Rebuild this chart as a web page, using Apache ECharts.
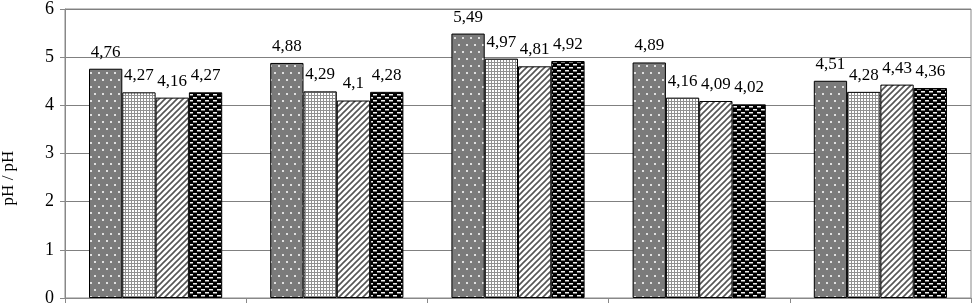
<!DOCTYPE html>
<html>
<head>
<meta charset="utf-8">
<script src="https://cdn.jsdelivr.net/npm/echarts@6/dist/echarts.min.js"></script>
<style>html,body{margin:0;padding:0;background:#fff;}#c{width:972px;height:307px;}</style>
</head>
<body>
<div id="c"></div>
<script>
var categories = ['1', '2', '3', '4', '5'];
var series1 = [4.76, 4.88, 5.49, 4.89, 4.51];
var series2 = [4.27, 4.29, 4.97, 4.16, 4.28];
var series3 = [4.16, 4.1, 4.81, 4.09, 4.43];
var series4 = [4.27, 4.28, 4.92, 4.02, 4.36];
var seriesNames = ['S1', 'S2', 'S3', 'S4'];
var yTicks = [0, 1, 2, 3, 4, 5, 6];
var yTitle = 'pH / pH';

function makePattern(w, h, draw) {
  var c = document.createElement('canvas');
  c.width = w; c.height = h;
  var g = c.getContext('2d');
  draw(g, w, h);
  return { image: c, repeat: 'repeat' };
}
var pDots = makePattern(8, 14, function (g, w, h) {
  g.fillStyle = '#7b7b7b'; g.fillRect(0, 0, w, h);
  g.fillStyle = '#e0e0e0';
  g.fillRect(2, 2, 2, 2); g.fillRect(6, 9, 2, 2);
});
var pGrid = makePattern(3, 3, function (g, w, h) {
  g.fillStyle = '#909090'; g.fillRect(0, 0, w, h);
  g.fillStyle = '#ffffff'; g.fillRect(0, 0, 2, 2);
});
var pDiag = makePattern(6, 6, function (g, w, h) {
  g.fillStyle = '#ffffff'; g.fillRect(0, 0, w, h);
  g.strokeStyle = '#555'; g.lineWidth = 1.6;
  g.beginPath();
  g.moveTo(-1, 7); g.lineTo(7, -1);
  g.moveTo(-4, 4); g.lineTo(4, -4);
  g.moveTo(2, 10); g.lineTo(10, 2);
  g.stroke();
});
var pDash = makePattern(8, 6, function (g, w, h) {
  g.fillStyle = '#000'; g.fillRect(0, 0, w, h);
  g.fillStyle = '#f0f0f0';
  g.fillRect(1, 1, 4, 1.5); g.fillRect(5, 4, 4, 1.5); g.fillRect(-3, 4, 4, 1.5);
});
var patterns = [pDots, pGrid, pDiag, pDash];
var datas = [series1, series2, series3, series4];

var chart = echarts.init(document.getElementById('c'));
chart.setOption({
  animation: false,
  grid: { left: 65, right: 1, top: 8, bottom: 9, show: true, borderColor: '#888', borderWidth: 1 },
  graphic: [{
    type: 'text', x: 9, y: 178, rotation: Math.PI / 2,
    style: { text: yTitle, font: '17px "Liberation Serif"', fill: '#000', textAlign: 'center', textVerticalAlign: 'middle' }
  }],
  xAxis: {
    type: 'category', data: categories,
    axisLine: { lineStyle: { color: '#888' } },
    axisTick: { show: true, inside: false, length: 5, lineStyle: { color: '#888' } },
    axisLabel: { show: false }
  },
  yAxis: {
    type: 'value', min: yTicks[0], max: yTicks[yTicks.length - 1], interval: 1,
    axisLine: { show: true, lineStyle: { color: '#888' } },
    axisTick: { show: true, length: 5, lineStyle: { color: '#888' } },
    axisLabel: { fontFamily: 'Liberation Serif', fontSize: 18, color: '#000', margin: 11 },
    splitLine: { lineStyle: { color: '#808080', width: 1 } }
  },
  series: datas.map(function (d, i) {
    return {
      name: seriesNames[i], type: 'bar', data: d,
      barCategoryGap: '26.5%', barGap: '0%',
      itemStyle: { color: patterns[i], borderColor: '#000', borderWidth: 1 },
      label: {
        show: true, position: 'top', distance: 8,
        fontFamily: 'Liberation Serif', fontSize: 17, color: '#000',
        formatter: function (p) { return String(p.value).replace('.', ','); }
      }
    };
  })
});
</script>
</body>
</html>
